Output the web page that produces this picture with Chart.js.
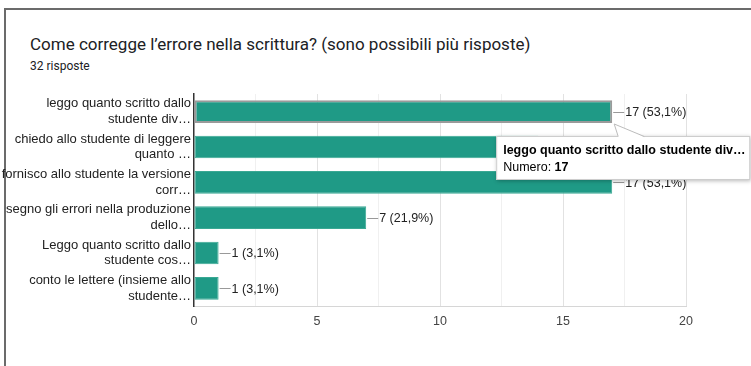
<!DOCTYPE html>
<html>
<head>
<meta charset="utf-8">
<script src="https://cdn.jsdelivr.net/npm/chart.js@4.4.1/dist/chart.umd.min.js"></script>
<style>
  html, body { margin: 0; padding: 0; background: #fff; }
  #card {
    position: absolute; left: 4px; top: 8px; width: 747px; height: 358px;
    border-left: 2px solid #6b6b6b; border-top: 2px solid #6b6b6b;
  }
  #title {
    position: absolute; left: 30px; top: 34px;
    font: 17px Roboto, "Noto Sans", sans-serif; color: #202124; white-space: nowrap;
  }
  #subtitle {
    position: absolute; left: 30px; top: 59px;
    font: 12px Roboto, "Noto Sans", sans-serif; color: #202124;
  }
  #wrap { position: absolute; left: 0; top: 0; width: 751px; height: 366px; }
</style>
</head>
<body>
<div id="card"></div>
<div id="title">Come corregge l’errore nella scrittura? (sono possibili più risposte)</div>
<div id="subtitle">32 risposte</div>
<div id="wrap"><canvas id="chart" width="751" height="366"></canvas></div>
<script>
const categories = [
    ['leggo quanto scritto dallo', 'studente div…'],
    ['chiedo allo studente di leggere', 'quanto …'],
    ['fornisco allo studente la versione', 'corr…'],
    ['segno gli errori nella produzione', 'dello…'],
    ['Leggo quanto scritto dallo', 'studente cos…'],
    ['conto le lettere (insieme allo', 'studente…']
];
const counts = [17, 14, 17, 7, 1, 1];
const totalAnswers = 32;
const xTicks = [0, 5, 10, 15, 20];

const BAR_COLOR = '#1f9a86';
const LABEL_FONT = 'Arial, "Liberation Sans", sans-serif';

function pct(v) {
    return (v / totalAnswers * 100).toFixed(1).replace('.', ',');
}

// "17 (53,1%)" next to each bar, with the little leader line
const valueLabels = {
    id: 'valueLabels',
    afterDatasetsDraw(chart) {
        const ctx = chart.ctx;
        const bars = chart.getDatasetMeta(0).data;
        ctx.save();
        ctx.font = '12.5px ' + LABEL_FONT;
        ctx.textBaseline = 'middle';
        bars.forEach((bar, i) => {
            const y = Math.round(bar.y) + 0.5;
            ctx.strokeStyle = '#999';
            ctx.lineWidth = 1;
            ctx.beginPath();
            ctx.moveTo(bar.x + 1, y);
            ctx.lineTo(bar.x + 12, y);
            ctx.stroke();
            ctx.fillStyle = '#222';
            ctx.fillText(counts[i] + ' (' + pct(counts[i]) + '%)', bar.x + 13, bar.y + 1);
        });
        ctx.restore();
    }
};

// hover callout over the first bar
const callout = {
    id: 'callout',
    afterDraw(chart) {
        const ctx = chart.ctx;
        const bar = chart.getDatasetMeta(0).data[0];
        const barBottom = bar.y + bar.height / 2;
        const left = bar.x - 116, top = barBottom + 13;
        const w = 254, h = 44;

        ctx.save();
        ctx.shadowColor = 'rgba(0,0,0,0.28)';
        ctx.shadowBlur = 4;
        ctx.shadowOffsetX = 1;
        ctx.shadowOffsetY = 1;
        ctx.fillStyle = '#fff';
        ctx.fillRect(left, top, w, h);
        ctx.restore();

        ctx.save();
        ctx.strokeStyle = '#ccc';
        ctx.lineWidth = 1;
        ctx.strokeRect(left + 0.5, top + 0.5, w - 1, h - 1);

        // tail pointing at the bar end
        const ax = bar.x + 2, ay = barBottom + 1;
        ctx.beginPath();
        ctx.moveTo(left + 122, top + 1);
        ctx.lineTo(ax, ay);
        ctx.lineTo(left + 148, top + 1);
        ctx.closePath();
        ctx.fillStyle = '#fff';
        ctx.fill();
        ctx.beginPath();
        ctx.moveTo(left + 122, top + 0.5);
        ctx.lineTo(ax, ay);
        ctx.lineTo(left + 148, top + 0.5);
        ctx.strokeStyle = '#bbb';
        ctx.stroke();

        ctx.fillStyle = '#000';
        ctx.textBaseline = 'alphabetic';
        ctx.font = 'bold 12.5px ' + LABEL_FONT;
        ctx.fillText(categories[0].join(' '), left + 7, top + 18);
        ctx.font = '12.5px ' + LABEL_FONT;
        const prefix = 'Numero: ';
        ctx.fillText(prefix, left + 7, top + 35);
        const pw = ctx.measureText(prefix).width;
        ctx.font = 'bold 12.5px ' + LABEL_FONT;
        ctx.fillText(String(counts[0]), left + 7 + pw, top + 35);
        ctx.restore();
    }
};

new Chart(document.getElementById('chart'), {
    type: 'bar',
    data: {
        labels: categories,
        datasets: [{
            data: counts,
            backgroundColor: BAR_COLOR,
            borderColor: counts.map((v, i) => i === 0 ? '#9a9a9a' : '#3aa893'),
            borderWidth: counts.map((v, i) => i === 0 ? 2 : 1),
            borderSkipped: false,
            categoryPercentage: 1,
            barPercentage: 0.64
        }]
    },
    options: {
        indexAxis: 'y',
        responsive: false,
        animation: false,
        layout: { padding: { left: 0, top: 94, right: 65, bottom: 0 } },
        plugins: {
            legend: { display: false },
            tooltip: { enabled: false }
        },
        scales: {
            x: {
                min: 0,
                max: 20,
                afterFit: s => { s.height = 60; },
                afterBuildTicks: s => {
                    // minor gridlines halfway between labelled ticks
                    const t = [];
                    for (let i = 0; i < xTicks.length; i++) {
                        t.push({ value: xTicks[i] });
                        if (i < xTicks.length - 1) t.push({ value: (xTicks[i] + xTicks[i + 1]) / 2 });
                    }
                    s.ticks = t.sort((a, b) => a.value - b.value);
                },
                ticks: {
                    autoSkip: false,
                    maxRotation: 0,
                    padding: 8,
                    color: '#444',
                    font: { size: 12.5, family: LABEL_FONT },
                    callback: v => xTicks.includes(v) ? v : ''
                },
                grid: {
                    drawTicks: false,
                    color: c => c.tick && c.tick.value === 0 ? 'rgba(0,0,0,0)'
                        : (c.tick && xTicks.includes(c.tick.value) ? '#e2e2e2' : '#f0f0f0')
                },
                border: { color: '#d6d6d6', width: 1 }
            },
            y: {
                afterFit: s => { s.width = 194; },
                ticks: {
                    padding: 3,
                    color: '#222',
                    font: { size: 13, family: LABEL_FONT, lineHeight: 1.2 }
                },
                grid: { display: false, drawTicks: false },
                border: { color: '#333', width: 1.5 }
            }
        }
    },
    plugins: [valueLabels, callout]
});
</script>
</body>
</html>
